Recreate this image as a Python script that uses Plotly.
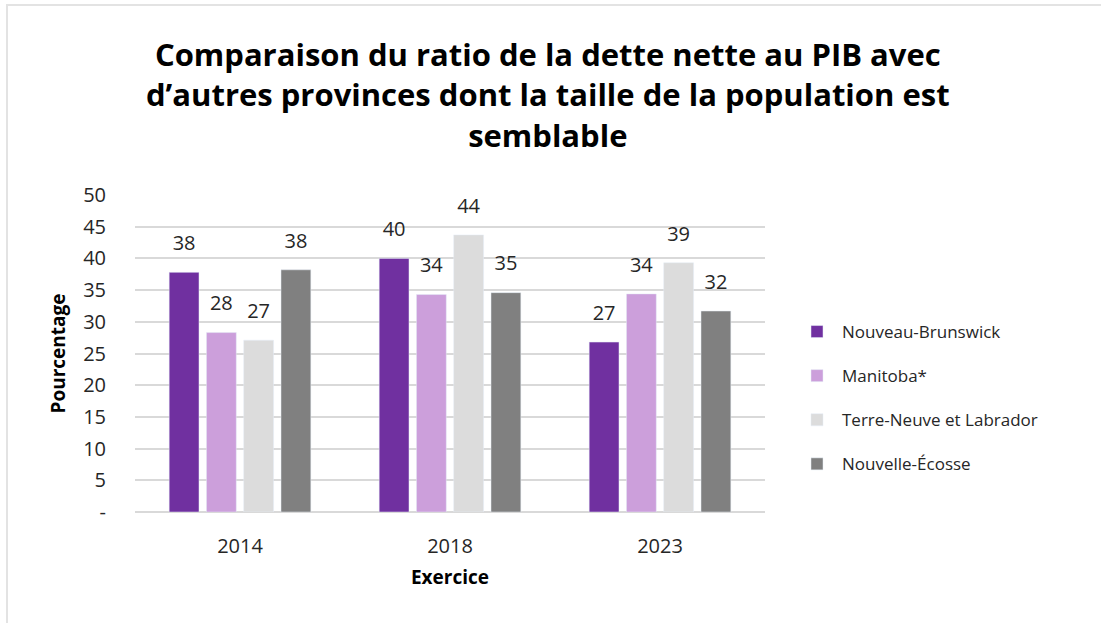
import plotly.graph_objects as go

years = ["2014", "2018", "2023"]
series_names = ["Nouveau-Brunswick", "Manitoba*", "Terre-Neuve et Labrador", "Nouvelle-Écosse"]
nb_values = [37.8, 40.0, 26.8]
mb_values = [28.3, 34.3, 34.4]
nl_values = [27.1, 43.7, 39.3]
ns_values = [38.2, 34.6, 31.7]
colors = ["#7030a0", "#cc9fdb", "#dcdcdc", "#808080"]
y_tickvals = [0, 5, 10, 15, 20, 25, 30, 35, 40, 45, 50]
y_ticktext = ["-", "5", "10", "15", "20", "25", "30", "35", "40", "45", "50"]

W, H = 1101, 623
ml, mr, mt, mb = 135, 336, 195, 111
pw, ph = W - ml - mr, H - mt - mb
BARGAP = 0.29

fig = go.Figure()
all_vals = [nb_values, mb_values, nl_values, ns_values]
for i, (name, vals) in enumerate(zip(series_names, all_vals)):
    fig.add_trace(go.Bar(
        x=years, y=vals, name=name, marker_color=colors[i],
        legendgroup=f"g{i}", offsetgroup=f"o{i}",
    ))
for i, (name, vals) in enumerate(zip(series_names, all_vals)):
    fig.add_trace(go.Scatter(
        x=years, y=vals, mode="markers+text", showlegend=False,
        offsetgroup=f"o{i}", legendgroup=f"g{i}",
        marker=dict(size=26, color="rgba(0,0,0,0)"),
        text=[f"{v:.0f}" for v in vals], textposition="top center",
        textfont=dict(size=20, color="#262626", family="Open Sans"),
        cliponaxis=False, hoverinfo="skip",
    ))

fig.add_annotation(
    text="Comparaison du ratio de la dette nette au PIB avec<br>d’autres provinces dont la taille de la population est<br>semblable",
    xref="paper", yref="paper", x=(548 - ml) / pw, y=(512 - 31) / ph,
    xanchor="center", yanchor="top", showarrow=False, align="center",
    font=dict(size=31, family="Open Sans", color="black", weight="bold"),
)

fig.update_layout(
    width=W, height=H,
    margin=dict(l=ml, r=mr, t=mt, b=mb),
    paper_bgcolor="white", plot_bgcolor="white",
    barmode="group", bargap=BARGAP, bargroupgap=0.2,
    scattermode="group", scattergap=BARGAP,
    font=dict(family="Open Sans", color="#262626"),
    xaxis=dict(
        showgrid=False, showline=False, ticks="",
        ticklabelstandoff=20,
        tickfont=dict(size=20, color="#262626"),
        title=dict(text="Exercice", font=dict(size=19, color="black", weight="bold"), standoff=12),
    ),
    yaxis=dict(
        range=[0, 50], tickvals=y_tickvals, ticktext=y_ticktext,
        showgrid=True, gridcolor="#d9d9d9", gridwidth=1.5,
        zeroline=True, zerolinecolor="#d9d9d9", zerolinewidth=1.5,
        showline=False, ticks="",
        ticklabelstandoff=28,
        tickfont=dict(size=20, color="#262626"),
        title=dict(text="Pourcentage", font=dict(size=19, color="black", weight="bold"), standoff=12),
    ),
    legend=dict(
        x=(792 - ml) / pw, xanchor="left", y=(512 - 314) / ph, yanchor="top",
        traceorder="grouped", tracegroupgap=19,
        font=dict(size=17, color="#262626"),
        itemwidth=40, bgcolor="rgba(0,0,0,0)",
    ),
    shapes=[dict(
        type="rect", xref="paper", yref="paper",
        x0=(7 - ml) / pw, x1=(W + 10 - ml) / pw,
        y0=(512 - (H + 10)) / ph, y1=(512 - 5) / ph,
        line=dict(color="#e3e3e3", width=2), fillcolor="rgba(0,0,0,0)", layer="below",
    )],
)

fig.write_html("out.html", config={"displayModeBar": False},
               post_script="document.body.style.margin='0';")
